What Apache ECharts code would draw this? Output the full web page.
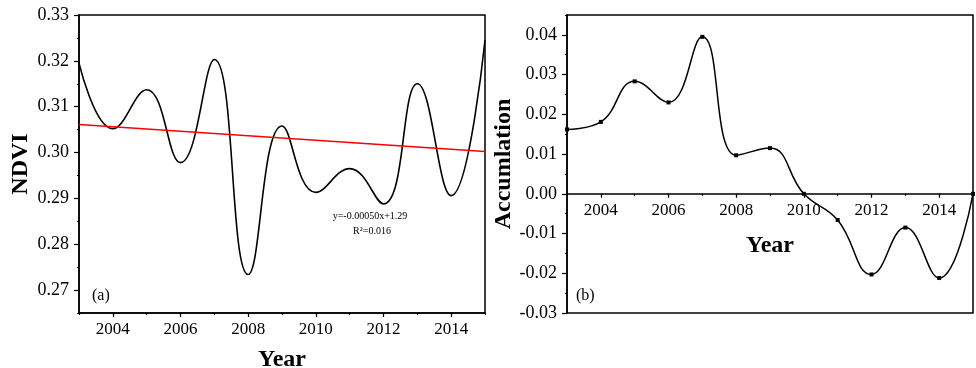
<!DOCTYPE html>
<html>
<head>
<meta charset="utf-8">
<script src="https://cdn.jsdelivr.net/npm/echarts@6/dist/echarts.min.js"></script>
<style>
  html, body { margin: 0; padding: 0; background: #fff; }
  #content { width: 976px; height: 368px; }
</style>
</head>
<body>
<div id="content"></div>
<script>
// 年份
var years = [2003, 2004, 2005, 2006, 2007, 2008, 2009, 2010, 2011, 2012, 2013, 2014, 2015];
// (a) NDVI 年均值
var ndvi = [0.3195, 0.3052, 0.3137, 0.2978, 0.3203, 0.2734, 0.3058, 0.2913, 0.2965, 0.2888, 0.3150, 0.2906, 0.3245];
// (a) 线性趋势线端点
var trendX = [2003, 2015];
var trendY = [0.3061, 0.3002];
// (b) 累积距平
var accum = [0.0162, 0.0181, 0.0283, 0.0230, 0.0395, 0.0097, 0.0115, 0.0000, -0.0066, -0.0203, -0.0085, -0.0212, 0.0000];
// 刻度
var yearLabels = [2004, 2006, 2008, 2010, 2012, 2014];
var ndviTicks = [0.27, 0.28, 0.29, 0.30, 0.31, 0.32, 0.33];
var accTicks = [-0.03, -0.02, -0.01, 0.00, 0.01, 0.02, 0.03, 0.04];

var FONT = 'Liberation Serif';
var GRID_TOP = 15, GRID_BOTTOM = 55, H = 368;

function pairs(xs, ys) {
    var out = [];
    for (var i = 0; i < xs.length; i++) {
        out.push([xs[i], ys[i]]);
    }
    return out;
}

// 只显示整0.01的刻度标签
function yLabel(v) {
    if (Math.abs(v) < 1e-9) return '0.00';
    var r = Math.round(v * 1000);
    return r % 10 === 0 ? v.toFixed(2) : '';
}
function xLabel(v) {
    return yearLabels.indexOf(v) >= 0 ? String(v) : '';
}

// 主x轴（长刻度+标签）
function makeX(idx, nameGap, offset) {
    return {
        type: 'value',
        gridIndex: idx,
        position: 'bottom',
        min: 2003,
        max: 2015,
        interval: 1,
        offset: offset,
        name: 'Year',
        nameLocation: 'middle',
        nameGap: nameGap,
        nameTextStyle: { fontFamily: FONT, fontWeight: 'bold', fontSize: 24, color: '#000' },
        axisLine: { onZero: false, lineStyle: { color: '#000', width: 1.5 } },
        axisTick: { show: true, length: 4, customValues: yearLabels, lineStyle: { color: '#000', width: 1.2 } },
        axisLabel: { formatter: xLabel, fontFamily: FONT, fontSize: 17, color: '#000', margin: 8 },
        splitLine: { show: false }
    };
}
// 次x轴（只画短刻度）
function makeXMinor(idx, offset) {
    return {
        type: 'value',
        gridIndex: idx,
        position: 'bottom',
        min: 2003,
        max: 2015,
        interval: 1,
        offset: offset,
        axisLine: { show: false, onZero: false },
        axisTick: { show: true, length: 2, lineStyle: { color: '#000', width: 1.2 } },
        axisLabel: { show: false },
        splitLine: { show: false }
    };
}

function makeY(idx, min, max, name, nameGap, majors) {
    return {
        type: 'value',
        gridIndex: idx,
        position: 'left',
        min: min,
        max: max,
        interval: 0.005,
        name: name,
        nameLocation: 'middle',
        nameGap: nameGap,
        nameRotate: 90,
        nameTextStyle: { fontFamily: FONT, fontWeight: 'bold', fontSize: 24, color: '#000' },
        axisLine: { show: true, onZero: false, lineStyle: { color: '#000', width: 1.5 } },
        axisTick: { show: true, length: 5, customValues: majors, lineStyle: { color: '#000', width: 1.2 } },
        axisLabel: { formatter: yLabel, fontFamily: FONT, fontSize: 18, color: '#000', margin: 10 },
        splitLine: { show: false }
    };
}
// 次y轴（只画短刻度）
function makeYMinor(idx, min, max) {
    return {
        type: 'value',
        gridIndex: idx,
        min: min,
        max: max,
        interval: 0.005,
        position: 'left',
        axisLine: { show: false, onZero: false },
        axisTick: { show: true, length: 2, lineStyle: { color: '#000', width: 1.2 } },
        axisLabel: { show: false },
        splitLine: { show: false }
    };
}

// 右图x轴放在0的位置
var accMin = -0.03, accMax = 0.045;
var plotH = H - GRID_TOP - GRID_BOTTOM;
var zeroOffset = -plotH * (0 - accMin) / (accMax - accMin);

var myChart = echarts.init(document.getElementById('content'));

var option = {
    backgroundColor: '#fff',
    animation: false,
    grid: [
        { left: 79, right: 491, top: GRID_TOP, bottom: GRID_BOTTOM, containLabel: false, outerBoundsMode: 'none',
          show: true, borderColor: '#000', borderWidth: 1.5 },
        { left: 567, right: 3, top: GRID_TOP, bottom: GRID_BOTTOM, containLabel: false, outerBoundsMode: 'none',
          show: true, borderColor: '#000', borderWidth: 1.5 }
    ],
    xAxis: [
        makeX(0, 35, 0),
        makeX(1, 40, zeroOffset),
        makeXMinor(0, 0),
        makeXMinor(1, zeroOffset)
    ],
    yAxis: [
        makeY(0, 0.265, 0.33, 'NDVI', 46, ndviTicks),
        makeY(1, accMin, accMax, 'Accumlation', 50, accTicks),
        makeYMinor(0, 0.265, 0.33),
        makeYMinor(1, accMin, accMax)
    ],
    series: [
        {
            type: 'line',
            xAxisIndex: 0,
            yAxisIndex: 0,
            data: pairs(years, ndvi),
            smooth: 0.45,
            showSymbol: false,
            lineStyle: { color: '#000', width: 1.6 }
        },
        {
            type: 'line',
            xAxisIndex: 0,
            yAxisIndex: 0,
            data: pairs(trendX, trendY),
            showSymbol: false,
            lineStyle: { color: '#ff0000', width: 1.5 }
        },
        {
            type: 'line',
            xAxisIndex: 1,
            yAxisIndex: 1,
            data: pairs(years, accum),
            smooth: 0.45,
            symbol: 'rect',
            symbolSize: 4,
            itemStyle: { color: '#000' },
            lineStyle: { color: '#000', width: 1.5 }
        }
    ],
    graphic: [
        { type: 'text', left: 92, top: 288, style: { text: '(a)', font: '16px ' + FONT, fill: '#000' } },
        { type: 'text', left: 576, top: 288, style: { text: '(b)', font: '16px ' + FONT, fill: '#000' } },
        { type: 'text', x: 370, y: 216, style: { text: 'y=-0.00050x+1.29', font: '10px ' + FONT, fill: '#000', align: 'center', verticalAlign: 'middle' } },
        { type: 'text', x: 372, y: 231, style: { text: 'R\u00b2=0.016', font: '10px ' + FONT, fill: '#000', align: 'center', verticalAlign: 'middle' } }
    ]
};

myChart.setOption(option);
</script>
</body>
</html>
